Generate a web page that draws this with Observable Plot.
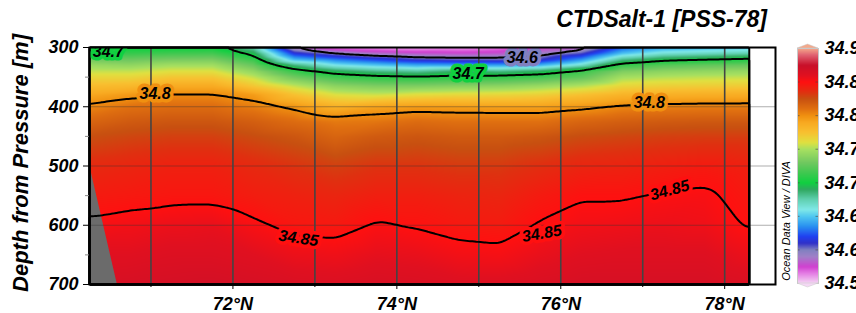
<!DOCTYPE html>
<html><head><meta charset="utf-8">
<script src="https://cdn.jsdelivr.net/npm/d3@7"></script>
<script src="https://cdn.jsdelivr.net/npm/@observablehq/plot@0.6"></script>
<style>
body{margin:0;background:#fff;}
#wrap{position:relative;width:856px;height:313px;overflow:hidden;font-family:"Liberation Sans",Arial,sans-serif;}
#wrap svg{position:absolute;left:0;top:0;}
.title{position:absolute;right:89px;top:8px;font:italic bold 23px/23px "Liberation Sans",Arial,sans-serif;white-space:nowrap;color:#000;}
.ylab{position:absolute;left:21px;top:163px;transform:translate(-50%,-50%) rotate(-90deg);font:italic bold 22px/22px "Liberation Sans",Arial,sans-serif;white-space:nowrap;color:#000;}
.odv{position:absolute;left:786px;top:221px;transform:translate(-50%,-50%) rotate(-90deg);font:italic 11px/11px "Liberation Sans",Arial,sans-serif;white-space:nowrap;color:#000;}
</style></head>
<body><div id="wrap"></div>
<script>
// ---- data ----
const lats = [70.25, 70.75, 71.25, 71.75, 72.25, 72.75, 73.25, 73.75, 74.25, 74.75, 75.25, 75.75, 76.25, 76.75, 77.25, 77.75, 78.3];
const depths = [300, 310, 320, 330, 340, 350, 365, 380, 400, 425, 450, 500, 550, 600, 650, 700];
const salinity = [
  [34.702, 34.698, 34.698, 34.699, 34.675, 34.585, 34.565, 34.560, 34.558, 34.560, 34.565, 34.575, 34.582, 34.625, 34.640, 34.645, 34.650],
  [34.715, 34.712, 34.715, 34.716, 34.695, 34.615, 34.598, 34.585, 34.580, 34.578, 34.580, 34.590, 34.606, 34.648, 34.665, 34.670, 34.675],
  [34.730, 34.728, 34.732, 34.733, 34.712, 34.645, 34.630, 34.618, 34.607, 34.603, 34.602, 34.608, 34.635, 34.680, 34.695, 34.700, 34.705],
  [34.745, 34.742, 34.748, 34.748, 34.728, 34.685, 34.660, 34.650, 34.642, 34.640, 34.640, 34.645, 34.668, 34.712, 34.722, 34.726, 34.728],
  [34.755, 34.755, 34.760, 34.760, 34.742, 34.712, 34.692, 34.682, 34.678, 34.688, 34.682, 34.690, 34.712, 34.735, 34.740, 34.742, 34.744],
  [34.765, 34.765, 34.772, 34.772, 34.755, 34.730, 34.715, 34.708, 34.705, 34.708, 34.710, 34.715, 34.725, 34.748, 34.752, 34.754, 34.755],
  [34.778, 34.780, 34.788, 34.788, 34.772, 34.755, 34.740, 34.735, 34.735, 34.738, 34.740, 34.745, 34.752, 34.765, 34.768, 34.769, 34.770],
  [34.790, 34.796, 34.802, 34.802, 34.795, 34.775, 34.760, 34.757, 34.762, 34.764, 34.765, 34.768, 34.775, 34.783, 34.785, 34.786, 34.787],
  [34.803, 34.810, 34.812, 34.812, 34.806, 34.798, 34.785, 34.792, 34.795, 34.794, 34.793, 34.793, 34.797, 34.803, 34.805, 34.806, 34.806],
  [34.815, 34.820, 34.822, 34.822, 34.818, 34.812, 34.807, 34.808, 34.812, 34.810, 34.810, 34.810, 34.815, 34.818, 34.820, 34.821, 34.821],
  [34.825, 34.828, 34.830, 34.830, 34.826, 34.822, 34.815, 34.820, 34.822, 34.820, 34.820, 34.822, 34.826, 34.828, 34.830, 34.831, 34.831],
  [34.838, 34.840, 34.842, 34.842, 34.838, 34.834, 34.830, 34.834, 34.834, 34.832, 34.832, 34.836, 34.840, 34.841, 34.843, 34.845, 34.842],
  [34.845, 34.846, 34.847, 34.847, 34.844, 34.842, 34.840, 34.843, 34.843, 34.841, 34.840, 34.845, 34.849, 34.849, 34.851, 34.852, 34.846],
  [34.852, 34.854, 34.856, 34.857, 34.852, 34.847, 34.846, 34.851, 34.849, 34.846, 34.845, 34.851, 34.854, 34.855, 34.856, 34.855, 34.849],
  [34.860, 34.860, 34.862, 34.862, 34.860, 34.856, 34.855, 34.858, 34.857, 34.854, 34.853, 34.857, 34.860, 34.861, 34.861, 34.861, 34.856],
  [34.865, 34.866, 34.867, 34.868, 34.866, 34.864, 34.863, 34.865, 34.864, 34.862, 34.862, 34.864, 34.866, 34.866, 34.866, 34.866, 34.863]
];
const contourLevels = [34.6, 34.7, 34.8, 34.85];
const labelLat   = [70.48, 71.05, 75.53, 74.87, 77.08, 72.80, 75.77, 77.33];
const labelDepth = [307, 378, 317, 345, 394, 622, 614, 541];
const labelText  = ["34.7", "34.8", "34.6", "34.7", "34.8", "34.85", "34.85", "34.85"];
const labelAngle = [0, 0, 0, 0, 0, 8, -10, -15];
const gridLats = [71, 72, 73, 74, 75, 76, 77, 78];
const majorLatTicks = [72, 74, 76, 78];
const minorLatTicks = [71, 73, 75, 77];
const depthTicks = [300, 400, 500, 600, 700];
const minorDepthTicks = [350, 450, 550, 650];
const gridDepths = [400, 500, 600];
const latDomain = [70.25, 78.62];
const depthDomain = [300, 700];
const bathyLat = [70.25, 70.59];
const bathyDepth = [498, 700];
const legendTicks = [34.55, 34.6, 34.65, 34.7, 34.75, 34.8, 34.85, 34.9];
const paletteStops = [34.55, 34.565, 34.575, 34.59, 34.60, 34.61, 34.62, 34.635, 34.65, 34.66, 34.675, 34.69, 34.70, 34.715, 34.73, 34.75, 34.76, 34.775, 34.79, 34.80, 34.81, 34.825, 34.835, 34.85, 34.86, 34.875, 34.89, 34.90];
const paletteColors = ["#f4d8f4", "#e47ee4", "#d040d0", "#a080c8", "#8080c0", "#3030c8", "#2040f0", "#2890f0", "#50c8f0", "#80e8e8", "#60d0b0", "#30a860", "#10d040", "#40c850", "#70c860", "#a8e060", "#e0e040", "#f8c030", "#f8a820", "#f09010", "#e07010", "#c85010", "#e03010", "#ff1010", "#e01020", "#c8102a", "#e06070", "#f4a88a"];

// ---- build tables ----
const points = depths.flatMap((d, i) => lats.map((lat, j) => ({lat, depth: d, sal: salinity[i][j]})));
const labels = labelLat.map((lat, i) => ({lat, depth: labelDepth[i], text: labelText[i], angle: labelAngle[i]}));
const bathy = bathyLat.map((lat, i) => ({lat, depth: bathyDepth[i]}));
const innerLegendTicks = legendTicks.slice(1, -1);
const colorScale = {type: "linear", domain: paletteStops, range: paletteColors, interpolate: "rgb", clamp: true};
const font = {fontFamily: "'Liberation Sans', Arial, sans-serif", fontSize: "18px", fontWeight: "bold", fontStyle: "italic", background: "none", color: "black"};
const extent = {x1: lats[0], x2: lats[lats.length - 1], y1: depthDomain[0], y2: depthDomain[1]};

const main = Plot.plot({
  width: 856, height: 313,
  marginLeft: 89, marginRight: 81, marginTop: 47, marginBottom: 29,
  style: font,
  x: {domain: latDomain, label: null},
  y: {domain: depthDomain, reverse: true, label: null},
  color: colorScale,
  marks: [
    Plot.raster(points, {x: "lat", y: "depth", fill: "sal", interpolate: "barycentric", pixelSize: 1, ...extent}),
    Plot.areaX(bathy, {y: "depth", x1: latDomain[0], x2: "lat", fill: "#6b6b6b"}),
    Plot.ruleY(gridDepths, {stroke: "#333", strokeOpacity: 0.4, strokeWidth: 1}),
    Plot.ruleX(gridLats, {stroke: "#444", strokeWidth: 1.6}),
    Plot.contour(points, {x: "lat", y: "depth", value: "sal", thresholds: contourLevels, interpolate: "barycentric", blur: 2, pixelSize: 2, fill: "none", stroke: "black", strokeWidth: 2, ...extent}),
    Plot.text(labels, {x: "lat", y: "depth", text: "text", rotate: "angle", fill: "black", stroke: d => +d.text, strokeWidth: 7, strokeLinejoin: "round", paintOrder: "stroke", fontSize: 16, clip: true}),
    Plot.frame({stroke: "black", strokeWidth: 2}),
    Plot.axisX({ticks: majorLatTicks, tickFormat: d => d + "°N", tickSize: 5, tickPadding: 8, label: null}),
    Plot.axisX({ticks: minorLatTicks, tickFormat: () => "", tickSize: 3, label: null}),
    Plot.axisY({ticks: depthTicks, tickSize: 6, tickPadding: 5, label: null}),
    Plot.axisY({ticks: minorDepthTicks, tickFormat: () => "", tickSize: 4, stroke: "#888", label: null})
  ]
});

const bar = Plot.plot({
  width: 856, height: 313,
  marginLeft: 797, marginRight: 38, marginTop: 48, marginBottom: 30,
  style: font,
  x: {domain: [0, 1], axis: null},
  y: {domain: [legendTicks[0], legendTicks[legendTicks.length - 1]], axis: null},
  color: colorScale,
  marks: [
    Plot.raster({fill: (x, y) => y, x1: 0, x2: 1, y1: legendTicks[0], y2: legendTicks[legendTicks.length - 1], pixelSize: 1}),
    Plot.ruleY(innerLegendTicks, {x1: 0, x2: 0.12, stroke: "#444", strokeOpacity: 0.6}),
    Plot.ruleY(innerLegendTicks, {x1: 0.88, x2: 1, stroke: "#444", strokeOpacity: 0.6}),
    Plot.frame({stroke: "#c8c8c8", strokeWidth: 1}),
    Plot.axisY({ticks: legendTicks, anchor: "right", tickSize: 0, tickPadding: 6, tickFormat: d => String(d), label: null})
  ]
});

const wrap = document.getElementById("wrap");
wrap.appendChild(main);
wrap.appendChild(bar);

// colour-bar end caps, placed through the bar's own scales
const bx = bar.scale("x"), by = bar.scale("y");
const xl = bx.apply(0), xr = bx.apply(1), xm = (xl + xr) / 2;
const yt = by.apply(legendTicks[legendTicks.length - 1]), yb = by.apply(legendTicks[0]);
const svgBar = d3.select(bar);
svgBar.append("path").attr("d", `M${xl},${yt}L${xm},${yt - 4}L${xr},${yt}Z`).attr("fill", paletteColors[paletteColors.length - 1]).attr("stroke", "#c8c8c8").attr("stroke-width", 0.5);
svgBar.append("path").attr("d", `M${xl},${yb}L${xm},${yb + 4}L${xr},${yb}Z`).attr("fill", paletteColors[0]).attr("stroke", "#c8c8c8").attr("stroke-width", 0.5);

for (const [cls, txt] of [["title", "CTDSalt-1 [PSS-78]"], ["ylab", "Depth from Pressure [m]"], ["odv", "Ocean Data View / DIVA"]]) {
  const el = document.createElement("div");
  el.className = cls;
  el.textContent = txt;
  wrap.appendChild(el);
}
</script>
</body></html>
